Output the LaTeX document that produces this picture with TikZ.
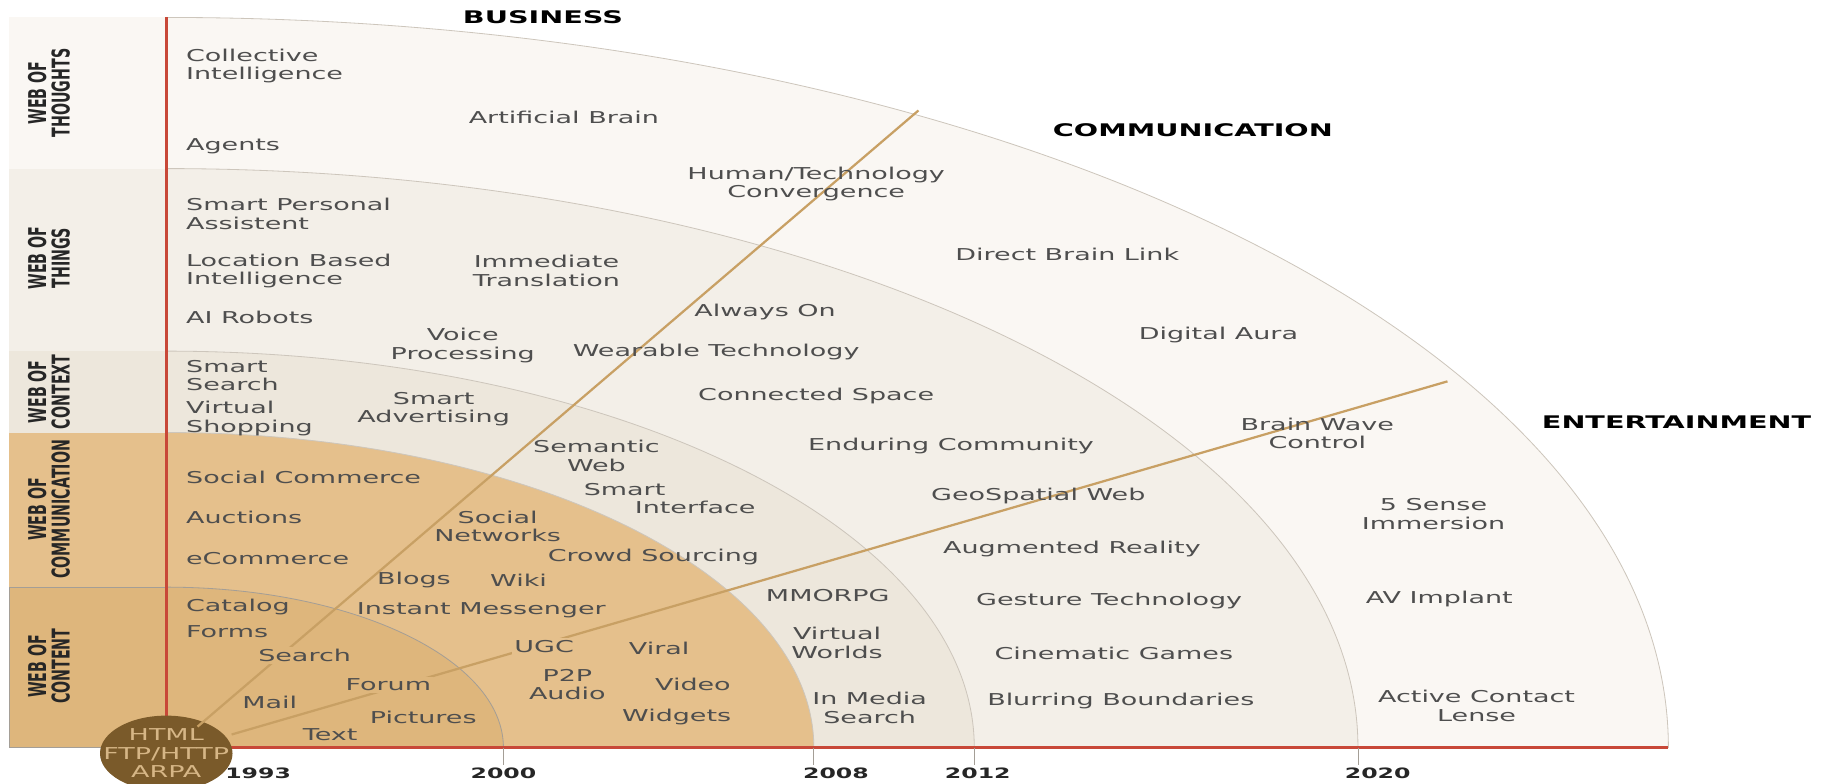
\documentclass[tikz,border=0pt]{standalone}
\usepackage{fontspec}
\newfontfamily\widefont{DejaVu Sans}[FakeStretch=1.65]
\newfontfamily\bandfont{DejaVu Sans}[FakeStretch=0.58]
\usetikzlibrary{shapes.geometric}
\definecolor{contentfill}{RGB}{222, 182, 124}
\definecolor{commfill}{RGB}{229, 192, 140}
\definecolor{contextfill}{RGB}{237, 231, 220}
\definecolor{thingsfill}{RGB}{243, 239, 232}
\definecolor{thoughtsfill}{RGB}{250, 247, 243}
\definecolor{arcline}{RGB}{205, 198, 188}
\definecolor{axisred}{RGB}{200, 72, 56}
\definecolor{raytan}{RGB}{200, 160, 100}
\definecolor{corebrown}{RGB}{122, 90, 42}
\definecolor{coretan}{RGB}{214, 182, 134}
\definecolor{itemgray}{RGB}{78, 78, 78}

\tikzset{
  item/.style={font=\widefont\fontsize{8}{9}\selectfont, text=itemgray, align=center, inner sep=1pt},
  itemL/.style={item, anchor=west, align=left},
  head/.style={font=\widefont\bfseries\fontsize{8.5}{10}\selectfont, text=black},
  year/.style={font=\widefont\bfseries\fontsize{7}{8}\selectfont, text=black!85},
  band/.style={font=\bandfont\bfseries\fontsize{12}{11.5}\selectfont, text=black!85, rotate=90, align=center},
  ray/.style={raytan, line width=1.1pt},
}

\begin{document}
\begin{tikzpicture}[x=0.02cm, y=-0.02cm]
  \useasboundingbox (0,0) rectangle (1568,674);
  \clip (0,0) rectangle (1568,674);

  % Rings, outer to inner
  \path[fill=thoughtsfill, draw=arcline] (143,643) -- (1435,643) arc[start angle=0, end angle=-90, x radius=1292, y radius=628] -- cycle;
  \path[fill=thingsfill, draw=arcline] (143,643) -- (1168,643) arc[start angle=0, end angle=-90, x radius=1025, y radius=498] -- cycle;
  \path[fill=contextfill, draw=arcline] (143,643) -- (838,643) arc[start angle=0, end angle=-90, x radius=695, y radius=341] -- cycle;
  \path[fill=commfill, draw=arcline] (143,643) -- (700,643) arc[start angle=0, end angle=-90, x radius=557, y radius=271] -- cycle;
  \path[fill=contentfill, draw=arcline!80!black] (143,643) -- (433,643) arc[start angle=0, end angle=-90, x radius=290, y radius=138] -- cycle;

  % Left bands
  \fill[thoughtsfill] (8,15) rectangle (143,145);
  \fill[thingsfill] (8,145) rectangle (143,302);
  \fill[contextfill] (8,302) rectangle (143,372);
  \fill[commfill] (8,372) rectangle (143,505);
  \path[fill=contentfill, draw=arcline!80!black] (8,505) rectangle (143,643);
  \node[band] (bthoughts) at (42,80) {WEB OF\\THOUGHTS};
  \node[band] (bthings) at (42,222) {WEB OF\\THINGS};
  \node[band] (bcontext) at (42,337) {WEB OF\\CONTEXT};
  \node[band] (bcomm) at (42,438) {WEB OF\\COMMUNICATION};
  \node[band] (bcontent) at (42,573) {WEB OF\\CONTENT};

  % Axes and year ticks
  \draw[axisred, line width=1.6pt] (143,15) -- (143,643) -- (1435,643);
  \draw[arcline!80!black] (433,643) -- (433,658);
  \draw[arcline!80!black] (700,643) -- (700,658);
  \draw[arcline!80!black] (838,643) -- (838,658);
  \draw[arcline!80!black] (1168,643) -- (1168,658);
  \node[year] (y1993) at (222,665) {1993};
  \node[year] (y2000) at (433,665) {2000};
  \node[year] (y2008) at (719,665) {2008};
  \node[year] (y2012) at (841,665) {2012};
  \node[year] (y2020) at (1185,665) {2020};

  % Origin disc
  \node[ellipse, fill=corebrown, minimum width=2.28cm, minimum height=1.3cm, inner sep=0pt] (coredisc) at (143,648) {};
  \node[item, text=coretan] (core) at (coredisc) {HTML\\FTP/HTTP\\ARPA};

  % Sector rays
  \coordinate (bizend) at (790,95);
  \coordinate (entend) at (1245,328);
  \draw[ray] (core) -- (bizend);
  \draw[ray] (core) -- (entend);

  % Sector headings
  \node[head] (business) at (467,15) {BUSINESS};
  \node[head] (communication) at (1026,112) {COMMUNICATION};
  \node[head] (entertainment) at (1442,363) {ENTERTAINMENT};

  % Web of thoughts
  \node[itemL] (collective) at (158,57) {Collective\\Intelligence};
  \node[itemL] (agents) at (158,126) {Agents};
  \node[item] (artbrain) at (485,101) {Artificial Brain};
  \node[item] (humantech) at (702,158) {Human/Technology\\Convergence};
  \node[item] (brainlink) at (918,219) {Direct Brain Link};
  \node[item] (aura) at (1048,288) {Digital Aura};
  \node[item] (brainwave) at (1133,373) {Brain Wave\\Control};
  \node[item] (fivesense) at (1233,442) {5 Sense\\Immersion};
  \node[item] (avimplant) at (1238,515) {AV Implant};
  \node[item] (contact) at (1270,607) {Active Contact\\Lense};

  % Web of things
  \node[itemL] (assistent) at (158,184) {Smart Personal\\Assistent};
  \node[itemL] (location) at (158,233) {Location Based\\Intelligence};
  \node[item] (translation) at (470,233) {Immediate\\Translation};
  \node[itemL] (robots) at (158,273) {AI Robots};
  \node[item] (alwayson) at (658,268) {Always On};
  \node[item] (voice) at (398,297) {Voice\\Processing};
  \node[item] (wearable) at (616,303) {Wearable Technology};
  \node[item] (connected) at (702,341) {Connected Space};
  \node[item] (enduring) at (818,384) {Enduring Community};
  \node[item] (geospatial) at (893,427) {GeoSpatial Web};
  \node[item] (augmented) at (922,472) {Augmented Reality};
  \node[item] (gesture) at (954,517) {Gesture Technology};
  \node[item] (cinematic) at (958,562) {Cinematic Games};
  \node[item] (blurring) at (964,603) {Blurring Boundaries};

  % Web of context
  \node[itemL] (smartsearch) at (158,323) {Smart\\Search};
  \node[itemL] (vshopping) at (158,360) {Virtual\\Shopping};
  \node[item] (advertising) at (373,352) {Smart\\Advertising};
  \node[item] (semantic) at (513,392) {Semantic\\Web};
  \node[itemL] (interface) at (500,429) {Smart\\\hspace*{25pt}Interface};
  \node[item] (mmorpg) at (712,512) {MMORPG};
  \node[item] (vworlds) at (720,553) {Virtual\\Worlds};
  \node[item] (inmedia) at (748,609) {In Media\\Search};

  % Web of communication
  \node[itemL] (socialcom) at (158,411) {Social Commerce};
  \node[itemL] (auctions) at (158,445) {Auctions};
  \node[itemL] (ecommerce) at (158,480) {eCommerce};
  \node[item] (networks) at (428,453) {Social\\Networks};
  \node[item] (crowd) at (562,479) {Crowd Sourcing};
  \node[item] (blogs) at (356,499) {Blogs};
  \node[item] (wiki) at (446,499) {Wiki};
  \node[item] (messenger) at (414,525) {Instant Messenger};
  \node[item, fill=commfill] (ugc) at (468,556) {UGC};
  \node[item] (viral) at (567,558) {Viral};
  \node[item] (p2p) at (488,589) {P2P\\Audio};
  \node[item] (video) at (596,589) {Video};
  \node[item] (widgets) at (582,617) {Widgets};

  % Web of content
  \node[itemL] (catalog) at (158,522) {Catalog};
  \node[itemL] (forms) at (158,543) {Forms};
  \node[item, fill=contentfill] (search) at (262,564) {Search};
  \node[item, fill=contentfill] (forum) at (334,589) {Forum};
  \node[item] (mail) at (232,604) {Mail};
  \node[item] (pictures) at (364,617) {Pictures};
  \node[item] (text) at (284,632) {Text};
\end{tikzpicture}
\end{document}
